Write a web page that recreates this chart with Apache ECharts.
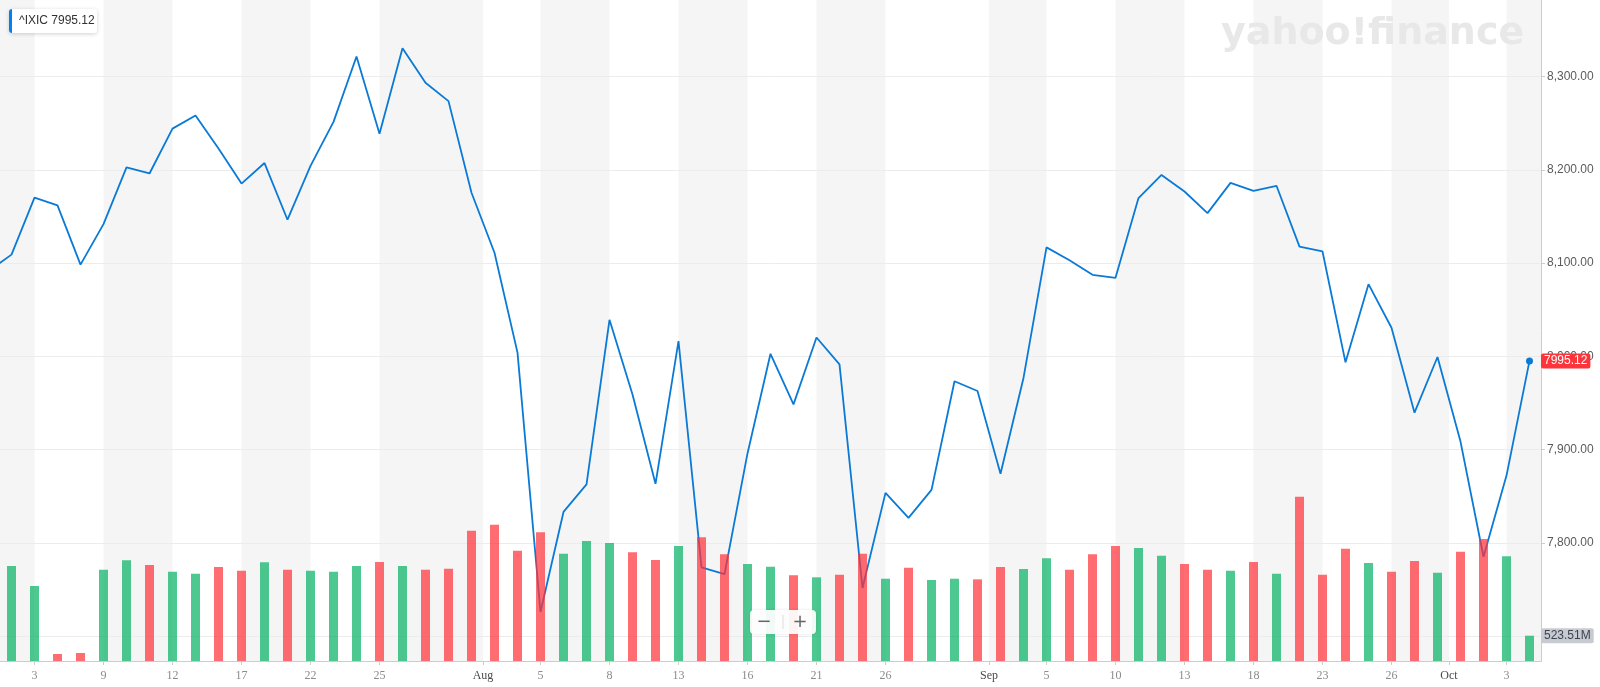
<!DOCTYPE html>
<html>
<head>
<meta charset="utf-8">
<script src="https://cdn.jsdelivr.net/npm/echarts@6.0.0/dist/echarts.min.js"></script>
<style>
  html, body { margin: 0; padding: 0; background: #fff; }
  #chart { width: 1600px; height: 687px; }
</style>
</head>
<body>
<div id="chart"></div>
<script>
// ---------------- DATA ----------------
const symbol = '^IXIC';
const priorDate = '2019-07-01';
const priorClose = 8091.16;

const dates = ['2019-07-02','2019-07-03','2019-07-05','2019-07-08','2019-07-09','2019-07-10','2019-07-11','2019-07-12','2019-07-15','2019-07-16','2019-07-17','2019-07-18','2019-07-19','2019-07-22','2019-07-23','2019-07-24','2019-07-25','2019-07-26','2019-07-29','2019-07-30','2019-07-31',
'2019-08-01','2019-08-02','2019-08-05','2019-08-06','2019-08-07','2019-08-08','2019-08-09','2019-08-12','2019-08-13','2019-08-14','2019-08-15','2019-08-16','2019-08-19','2019-08-20','2019-08-21','2019-08-22','2019-08-23','2019-08-26','2019-08-27','2019-08-28','2019-08-29','2019-08-30',
'2019-09-03','2019-09-04','2019-09-05','2019-09-06','2019-09-09','2019-09-10','2019-09-11','2019-09-12','2019-09-13','2019-09-16','2019-09-17','2019-09-18','2019-09-19','2019-09-20','2019-09-23','2019-09-24','2019-09-25','2019-09-26','2019-09-27','2019-09-30',
'2019-10-01','2019-10-02','2019-10-03','2019-10-04'];

const closes = [8109.09,8170.23,8161.79,8098.38,8141.73,8202.53,8196.04,8244.14,8258.19,8222.80,8185.21,8207.24,8146.49,8204.14,8251.40,8321.50,8238.54,8330.21,8293.33,8273.61,8175.42,
8111.12,8004.07,7726.04,7833.27,7862.83,8039.16,7959.14,7863.41,8016.36,7773.94,7766.62,7895.99,8002.81,7948.56,8020.21,7991.39,7751.77,7853.74,7826.95,7856.88,7973.39,7962.88,
7874.16,7976.88,8116.83,8103.07,8087.44,8084.16,8169.68,8194.47,8176.71,8153.54,8186.02,8177.39,8182.88,8117.67,8112.46,7993.63,8077.38,8030.66,7939.63,7999.34,
7908.68,7785.25,7872.27,7995.12];

// volume in millions of shares
const volumes = [1966,1552,145,166,1889,2083,1986,1848,1806,1945,1868,2042,1889,1868,1848,1966,2048,1966,1889,1910,2696,
2820,2282,2663,2220,2483,2441,2249,2090,2379,2559,2208,2007,1951,1773,1732,1786,2220,1703,1930,1676,1703,1690,
1945,1903,2125,1889,2208,2379,2338,2179,2007,1889,1868,2048,1806,3399,1786,2323,2028,1848,2069,1827,
2261,2524,2166,523.51];

// x-axis ticks: full dates = day ticks, 'YYYY-MM' = month boundary ticks
const tickDates = ['2019-07-03','2019-07-09','2019-07-12','2019-07-17','2019-07-22','2019-07-25','2019-08','2019-08-05','2019-08-08','2019-08-13','2019-08-16','2019-08-21','2019-08-26','2019-09','2019-09-05','2019-09-10','2019-09-13','2019-09-18','2019-09-23','2019-09-26','2019-10','2019-10-03'];
const monthNames = ['Jan','Feb','Mar','Apr','May','Jun','Jul','Aug','Sep','Oct','Nov','Dec'];

// price axis: visible range and gridline/tick values
const priceRange = [7673.5, 8382];
const priceTicks = [7700, 7800, 7900, 8000, 8100, 8200, 8300];
const priceLabelsHidden = [7700];
const volumeRange = [0, 13680];

// ---------------- BUILD ----------------
const UP = 'rgba(0,176,97,0.7)';
const DOWN = 'rgba(255,51,58,0.72)';
const LINE = '#0a7ad6';

const tickValues = [], tickText = {};
tickDates.forEach(t => {
  let v, txt;
  if (t.length === 7) {
    v = dates.findIndex(d => d.startsWith(t)) - 0.5;
    txt = '{m|' + monthNames[+t.slice(5, 7) - 1] + '}';
  } else {
    v = dates.indexOf(t);
    txt = '{d|' + (+t.slice(8, 10)) + '}';
  }
  tickValues.push(v);
  tickText[String(v)] = txt;
});

const xMin = -0.5, xMax = dates.length - 0.5;
const edges = [xMin].concat(tickValues, [xMax]);
const bands = [];
for (let i = 0; i + 1 < edges.length; i += 2) {
  bands.push([{ xAxis: edges[i] }, { xAxis: edges[i + 1] }]);
}

const lineData = [[-1, priorClose]].concat(closes.map((c, i) => [i, c]));
const lastIdx = lineData.length - 1;
lineData[lastIdx] = { value: lineData[lastIdx], symbol: 'circle', symbolSize: 7, itemStyle: { color: LINE } };

const barData = volumes.map((v, i) => {
  const prev = i === 0 ? priorClose : closes[i - 1];
  return { value: [i, v], itemStyle: { color: closes[i] >= prev ? UP : DOWN } };
});

const lastClose = closes[closes.length - 1];
const lastVol = volumes[volumes.length - 1];

const gridBox = { left: 0, right: 59, top: 0, bottom: 26, outerBoundsMode: 'none', containLabel: false };

const chart = echarts.init(document.getElementById('chart'));
chart.setOption({
  animation: false,
  backgroundColor: '#ffffff',
  grid: [ Object.assign({}, gridBox), Object.assign({}, gridBox) ],
  xAxis: [
    { gridIndex: 0, type: 'value', min: xMin, max: xMax, show: false },
    {
      gridIndex: 1, type: 'value', min: xMin, max: xMax, z: 2,
      axisLine: { show: true, onZero: false, lineStyle: { color: '#cccccc', width: 1 } },
      axisTick: { show: true, customValues: tickValues, length: 4, lineStyle: { color: '#cccccc' } },
      axisLabel: {
        customValues: tickValues, margin: 9,
        formatter: v => tickText[String(v)] || '',
        rich: {
          m: { color: '#4a4a4a', fontSize: 12, fontFamily: 'Liberation Serif' },
          d: { color: '#8a8a8a', fontSize: 12, fontFamily: 'Liberation Serif' }
        }
      },
      splitLine: { show: false }
    }
  ],
  yAxis: [
    {
      gridIndex: 0, type: 'value', position: 'right', min: priceRange[0], max: priceRange[1], z: 2,
      axisLine: { show: false, onZero: false },
      axisTick: { show: true, customValues: priceTicks, length: 4, lineStyle: { color: '#cccccc' } },
      axisLabel: {
        customValues: priceTicks, margin: 6, color: '#5b5b5b', fontSize: 12, fontFamily: 'Liberation Sans',
        formatter: v => priceLabelsHidden.indexOf(v) >= 0 ? '' :
          v.toLocaleString('en-US', { minimumFractionDigits: 2, maximumFractionDigits: 2 })
      },
      splitLine: { show: true, lineStyle: { color: '#ececec', width: 1 } }
    },
    {
      gridIndex: 1, type: 'value', position: 'right', min: volumeRange[0], max: volumeRange[1], z: 2,
      axisLine: { show: true, onZero: false, lineStyle: { color: '#cccccc' } },
      axisTick: { show: false }, axisLabel: { show: false }, splitLine: { show: false }
    }
  ],
  series: [
    {
      name: 'bands', type: 'line', xAxisIndex: 1, yAxisIndex: 1, data: [], silent: true,
      markArea: { silent: true, z: 1, itemStyle: { color: '#f5f5f5' }, data: bands }
    },
    {
      name: symbol, type: 'line', xAxisIndex: 0, yAxisIndex: 0, z: 3,
      data: lineData, symbol: 'none', showSymbol: true, clip: true,
      lineStyle: { color: LINE, width: 1.8 },
      itemStyle: { color: LINE },
      markLine: {
        silent: true, symbol: 'none', precision: 2,
        lineStyle: { color: 'transparent', width: 0 },
        label: {
          show: true, position: 'end', distance: 0,
          formatter: p => p.value.toFixed(2),
          color: '#ffffff', backgroundColor: '#ff333a', borderRadius: 2,
          padding: [2, 3, 1, 3], fontSize: 12, fontFamily: 'Liberation Sans'
        },
        data: [{ yAxis: lastClose }]
      }
    },
    {
      name: 'Volume', type: 'bar', xAxisIndex: 1, yAxisIndex: 1, z: 4,
      barWidth: 9, data: barData,
      markLine: {
        silent: true, symbol: 'none', precision: 2,
        lineStyle: { color: 'transparent', width: 0 },
        label: {
          show: true, position: 'end', distance: 0,
          formatter: p => p.value.toFixed(2) + 'M',
          color: '#3d4450', backgroundColor: '#c7cad1', borderRadius: 2,
          padding: [2, 3, 1, 3], fontSize: 12, fontFamily: 'Liberation Sans'
        },
        data: [{ yAxis: lastVol }]
      }
    }
  ],
  graphic: {
    elements: [
      {
        type: 'text', x: 1221, y: 34, z: 2, silent: true,
        style: { text: 'yahoo!finance', font: 'bold 38px "DejaVu Sans"', fill: '#e8e8e8', verticalAlign: 'middle' }
      },
      {
        type: 'group', x: 9, y: 9, z: 100,
        children: [
          { type: 'rect', z: 100, shape: { x: 0, y: 0, width: 88, height: 24, r: 3 },
            style: { fill: '#ffffff', shadowBlur: 4, shadowColor: 'rgba(0,0,0,0.18)', shadowOffsetY: 1 } },
          { type: 'rect', z: 101, shape: { x: 0, y: 0, width: 3, height: 24, r: [3, 0, 0, 3] },
            style: { fill: '#0081f2' } },
          { type: 'text', z: 101, x: 10, y: 12,
            style: { text: symbol + ' ' + lastClose.toFixed(2), font: '12px "Liberation Sans"', fill: '#333333', verticalAlign: 'middle' } }
        ]
      },
      {
        type: 'group', x: 750, y: 610, z: 100,
        children: [
          { type: 'rect', z: 100, shape: { x: 0, y: 0, width: 66, height: 24, r: 4 },
            style: { fill: 'rgba(255,255,255,0.93)', shadowBlur: 3, shadowColor: 'rgba(0,0,0,0.12)' } },
          { type: 'text', z: 101, x: 14, y: 12,
            style: { text: '−', font: '18px "DejaVu Sans"', fill: '#666666', align: 'center', verticalAlign: 'middle' } },
          { type: 'line', z: 101, shape: { x1: 33, y1: 5, x2: 33, y2: 19 }, style: { stroke: '#dddddd', lineWidth: 1 } },
          { type: 'text', z: 101, x: 50, y: 12,
            style: { text: '+', font: '18px "DejaVu Sans"', fill: '#666666', align: 'center', verticalAlign: 'middle' } }
        ]
      }
    ]
  }
});
</script>
</body>
</html>
